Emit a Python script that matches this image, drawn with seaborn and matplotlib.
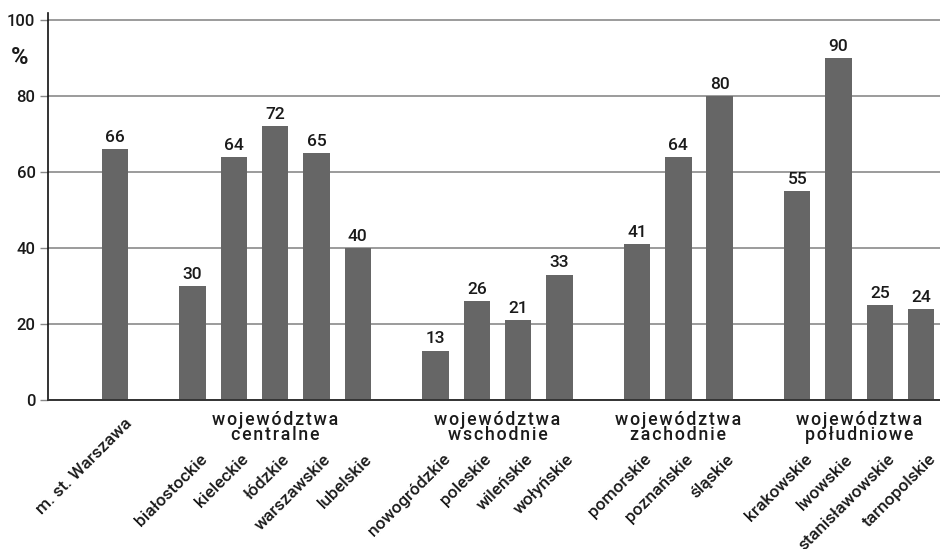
import matplotlib
matplotlib.use("Agg")
import matplotlib.pyplot as plt
import seaborn as sns
import numpy as np

categories = ['m. st. Warszawa', 'białostockie', 'kieleckie', 'łódzkie', 'warszawskie',
              'lubelskie', 'nowogródzkie', 'poleskie', 'wileńskie', 'wołyńskie',
              'pomorskie', 'poznańskie', 'śląskie', 'krakowskie', 'lwowskie',
              'stanisławowskie', 'tarnopolskie']
values = [66, 30, 64, 72, 65, 40, 13, 26, 21, 33, 41, 64, 80, 55, 90, 25, 24]
group_index = [0, 1, 1, 1, 1, 1, 2, 2, 2, 2, 3, 3, 3, 4, 4, 4, 4]
group_labels = ['', 'województwa\ncentralne', 'województwa\nwschodnie',
                'województwa\nzachodnie', 'województwa\npołudniowe']
y_ticks = [0, 20, 40, 60, 80, 100]

sns.set_theme(style='white')
plt.rcParams['font.family'] = ['Roboto', 'DejaVu Sans']
plt.rcParams['font.weight'] = 'medium'

TXT = '#1a1a1a'
GAP = 0.88
pos = [i + GAP * g for i, g in enumerate(group_index)]

fig = plt.figure(figsize=(9.4, 5.49), dpi=100)
ax = fig.add_axes([48 / 940, (549 - 400) / 549, 892 / 940, (400 - 13) / 549])

sns.barplot(x=pos, y=values, native_scale=True, width=0.64, color='#666666',
            saturation=1, errorbar=None, ax=ax, linewidth=0, zorder=2)

ax.set_ylim(0, 100 * 387 / 380)
ax.set_xlim(-1.622, 19.976)
ax.set_yticks(y_ticks)
ax.set_yticklabels([str(t) for t in y_ticks], fontsize=12, color=TXT)
ax.set_xticks([])
ax.yaxis.grid(True, color='#8a8a8a', lw=1.2)
ax.set_axisbelow(True)
ax.tick_params(axis='y', length=6, width=1, color='#888888', pad=3, left=True)
for s in ['top', 'right']:
    ax.spines[s].set_visible(False)
ax.spines['left'].set_color('#111111')
ax.spines['left'].set_linewidth(1.2)
ax.spines['bottom'].set_color('#333333')
ax.spines['bottom'].set_linewidth(1.4)

for c in ax.containers:
    ax.bar_label(c, labels=[str(v) for v in values], padding=3, fontsize=12.5, color=TXT)

fig.text(20 / 940, 1 - 57 / 549, '%', fontsize=17, fontweight='bold',
         ha='center', va='center', color=TXT)


def spaced(s):
    return '\n'.join('\u200a'.join(line) for line in s.split('\n'))


for g, lab in enumerate(group_labels):
    if not lab:
        continue
    xs = [p for p, gi in zip(pos, group_index) if gi == g]
    cx = (min(xs) + max(xs)) / 2
    ax.annotate(spaced(lab), xy=(cx, 0), xycoords=('data', 'axes fraction'),
                xytext=(0, -8), textcoords='offset points', ha='center', va='top',
                fontsize=12.8, linespacing=0.8, color=TXT)

for p, cat, g in zip(pos, categories, group_index):
    if g == 0:
        dx, dy = 7, -11
    else:
        dx, dy = 5, -37
    ax.annotate(cat, xy=(p, 0), xycoords=('data', 'axes fraction'),
                xytext=(dx, dy), textcoords='offset points', ha='right', va='top',
                rotation=45, rotation_mode='anchor', fontsize=12.5, color=TXT)

fig.savefig('out.png', dpi=100, facecolor='white')
